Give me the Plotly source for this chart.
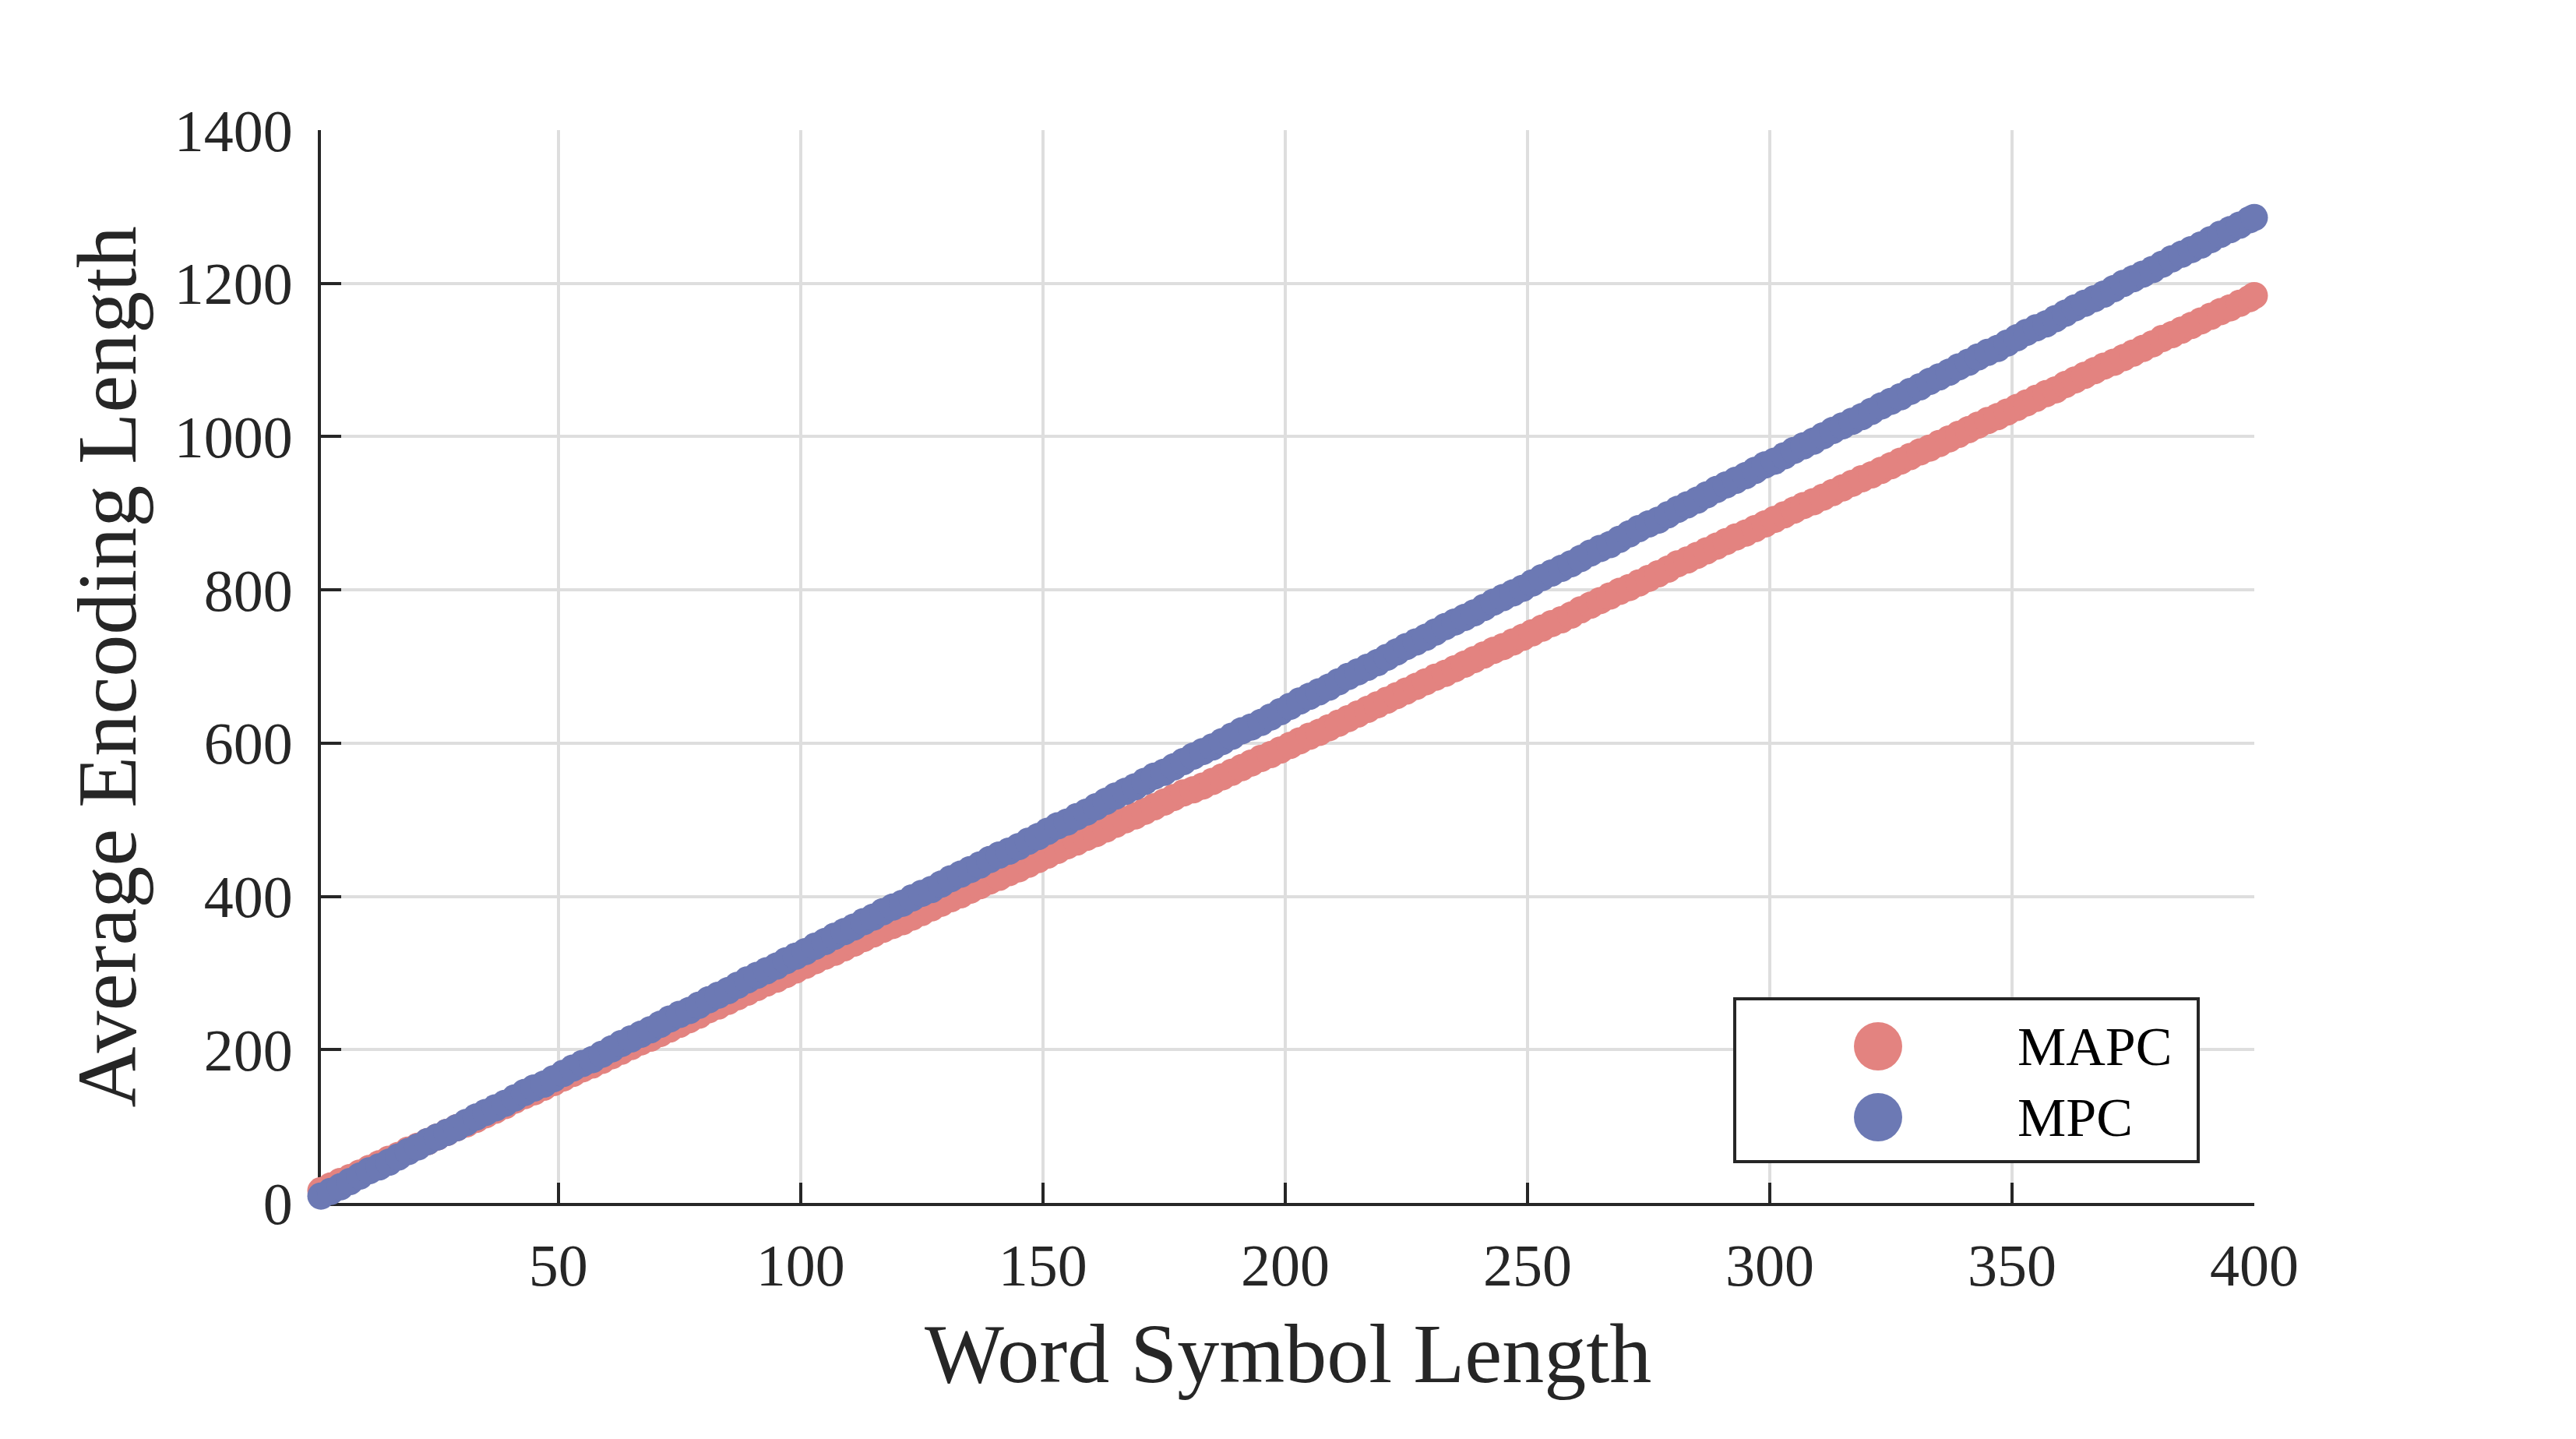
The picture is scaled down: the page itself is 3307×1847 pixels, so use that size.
import plotly.graph_objects as go

# ---------------- data ----------------
word_len = list(range(1, 400, 2)) + [400]

mpc = [
    9, 15, 21, 28, 35, 42, 47, 53, 60, 67,
    73, 80, 86, 92, 98, 105, 112, 118, 124, 130,
    137, 144, 150, 155, 162, 169, 176, 182, 187, 194,
    201, 208, 214, 220, 226, 233, 240, 246, 251, 258,
    265, 271, 277, 284, 291, 297, 303, 309, 316, 322,
    328, 335, 341, 348, 354, 360, 367, 373, 380, 386,
    391, 398, 404, 409, 416, 423, 429, 435, 441, 448,
    454, 459, 465, 472, 478, 485, 492, 497, 504, 510,
    517, 524, 531, 537, 543, 550, 557, 562, 569, 576,
    583, 589, 595, 602, 609, 616, 621, 627, 634, 641,
    648, 655, 661, 667, 673, 680, 687, 693, 699, 705,
    712, 719, 726, 732, 738, 745, 752, 758, 764, 770,
    777, 784, 790, 796, 802, 809, 816, 822, 828, 834,
    841, 848, 854, 859, 866, 873, 880, 886, 891, 898,
    905, 911, 917, 924, 931, 937, 943, 949, 956, 963,
    968, 975, 982, 988, 994, 1001, 1008, 1014, 1020, 1026,
    1033, 1040, 1046, 1052, 1059, 1065, 1072, 1078, 1084, 1091,
    1097, 1104, 1110, 1115, 1122, 1129, 1136, 1142, 1147, 1154,
    1161, 1168, 1174, 1180, 1186, 1193, 1200, 1206, 1212, 1218,
    1225, 1232, 1238, 1244, 1250, 1257, 1264, 1270, 1276, 1283,
    1286,
]

mapc = [
    16, 22, 28, 33, 39, 45, 51, 57, 62, 69,
    74, 80, 86, 92, 98, 103, 109, 115, 121, 127,
    134, 140, 145, 151, 157, 163, 169, 175, 180, 186,
    192, 198, 204, 210, 215, 221, 227, 233, 239, 245,
    252, 257, 263, 269, 275, 281, 287, 292, 298, 304,
    310, 316, 322, 327, 333, 339, 345, 351, 357, 362,
    367, 373, 379, 385, 391, 397, 402, 408, 414, 420,
    425, 431, 436, 442, 448, 454, 460, 466, 471, 477,
    482, 488, 494, 500, 505, 511, 517, 523, 529, 535,
    539, 544, 550, 556, 562, 568, 574, 580, 585, 591,
    597, 603, 609, 614, 620, 626, 632, 638, 644, 650,
    656, 662, 668, 674, 680, 686, 691, 697, 703, 709,
    715, 721, 726, 732, 738, 744, 750, 756, 761, 767,
    774, 780, 786, 792, 798, 803, 809, 815, 821, 827,
    834, 839, 845, 851, 857, 863, 869, 874, 880, 886,
    892, 898, 904, 910, 915, 921, 927, 933, 939, 945,
    950, 956, 962, 968, 974, 980, 985, 991, 997, 1003,
    1009, 1015, 1021, 1026, 1032, 1038, 1044, 1050, 1056, 1061,
    1068, 1074, 1080, 1086, 1092, 1097, 1103, 1109, 1115, 1121,
    1128, 1133, 1139, 1145, 1151, 1157, 1163, 1168, 1174, 1180,
    1184,
]

series_names = ["MAPC", "MPC"]
x_ticks = [50, 100, 150, 200, 250, 300, 350, 400]
y_ticks = [0, 200, 400, 600, 800, 1000, 1200, 1400]
x_title = "Word Symbol Length"
y_title = "Average Encoding Length"

# ---------------- style ----------------
RED = "#E38380"
BLUE = "#6C79B4"
DARK = "#262626"
GRID = "#DEDEDE"
FONT = "Liberation Serif, Times New Roman, serif"

OFF = 8                      # browser body margin
W, H = 3307 - 2 * OFF, 1847 - 2 * OFF
# target plot area in screenshot pixels
SX0, SX1, SY0, SY1 = 412, 2894, 167, 1544
L = SX0 - OFF
T = SY0 - OFF
R = W - (SX1 - OFF)
B = H - (SY1 - OFF)
PW, PH = SX1 - SX0, SY1 - SY0

def px_x(p):
    return (p - SX0) / PW

def px_y(p):
    return (SY1 - p) / PH

fig = go.Figure()
fig.add_trace(go.Scatter(x=word_len, y=mapc, mode="markers", name=series_names[0],
                         marker=dict(size=35, color=RED, line=dict(width=0)),
                         cliponaxis=False, showlegend=False))
fig.add_trace(go.Scatter(x=word_len, y=mpc, mode="markers", name=series_names[1],
                         marker=dict(size=35, color=BLUE, line=dict(width=0)),
                         cliponaxis=False, showlegend=False))

axis_common = dict(
    showline=True, linecolor=DARK, linewidth=4, mirror=False,
    showgrid=True, gridcolor=GRID, gridwidth=4,
    ticks="inside", ticklen=26, tickwidth=4, tickcolor=DARK,
    tickfont=dict(family=FONT, size=76, color=DARK),
    zeroline=False, layer="below traces",
)

fig.update_xaxes(range=[1, 400], tickvals=x_ticks, ticklabelstandoff=11, **axis_common)
fig.update_yaxes(range=[0, 1400], tickvals=y_ticks, ticklabelstandoff=17, **axis_common)

# Legend box (custom, to match big legend markers)
lx0, lx1, ly0, ly1 = 2227, 2822, 1282, 1491
shapes = [
    dict(type="rect", xref="paper", yref="paper",
         x0=px_x(lx0), x1=px_x(lx1), y0=px_y(ly1), y1=px_y(ly0),
         line=dict(color=DARK, width=4), fillcolor="white", layer="above"),
]
leg_rows = [1343, 1434]
leg_colors = [RED, BLUE]
annotations = []
for name, col, yy in zip(series_names, leg_colors, leg_rows):
    shapes.append(dict(type="circle", xref="paper", yref="paper",
                       xsizemode="pixel", ysizemode="pixel",
                       xanchor=px_x(2411), yanchor=px_y(yy),
                       x0=-31, x1=31, y0=-31, y1=31,
                       fillcolor=col, line=dict(width=0), layer="above"))
    annotations.append(dict(text=name, xref="paper", yref="paper",
                            x=px_x(2588), y=px_y(yy), xanchor="left", yanchor="middle",
                            showarrow=False, font=dict(family=FONT, size=70, color="black")))

annotations.append(dict(text=x_title, xref="paper", yref="paper",
                        x=0.5, y=px_y(1738), xanchor="center", yanchor="middle",
                        showarrow=False, font=dict(family=FONT, size=108, color=DARK)))
annotations.append(dict(text=y_title, xref="paper", yref="paper", textangle=-90,
                        x=px_x(137), y=0.5, xanchor="center", yanchor="middle",
                        showarrow=False, font=dict(family=FONT, size=108, color=DARK)))

fig.update_layout(
    width=W, height=H,
    margin=dict(l=L, r=R, t=T, b=B, pad=0),
    paper_bgcolor="white", plot_bgcolor="white",
    shapes=shapes, annotations=annotations,
    showlegend=False,
)

fig.write_html("out.html")
